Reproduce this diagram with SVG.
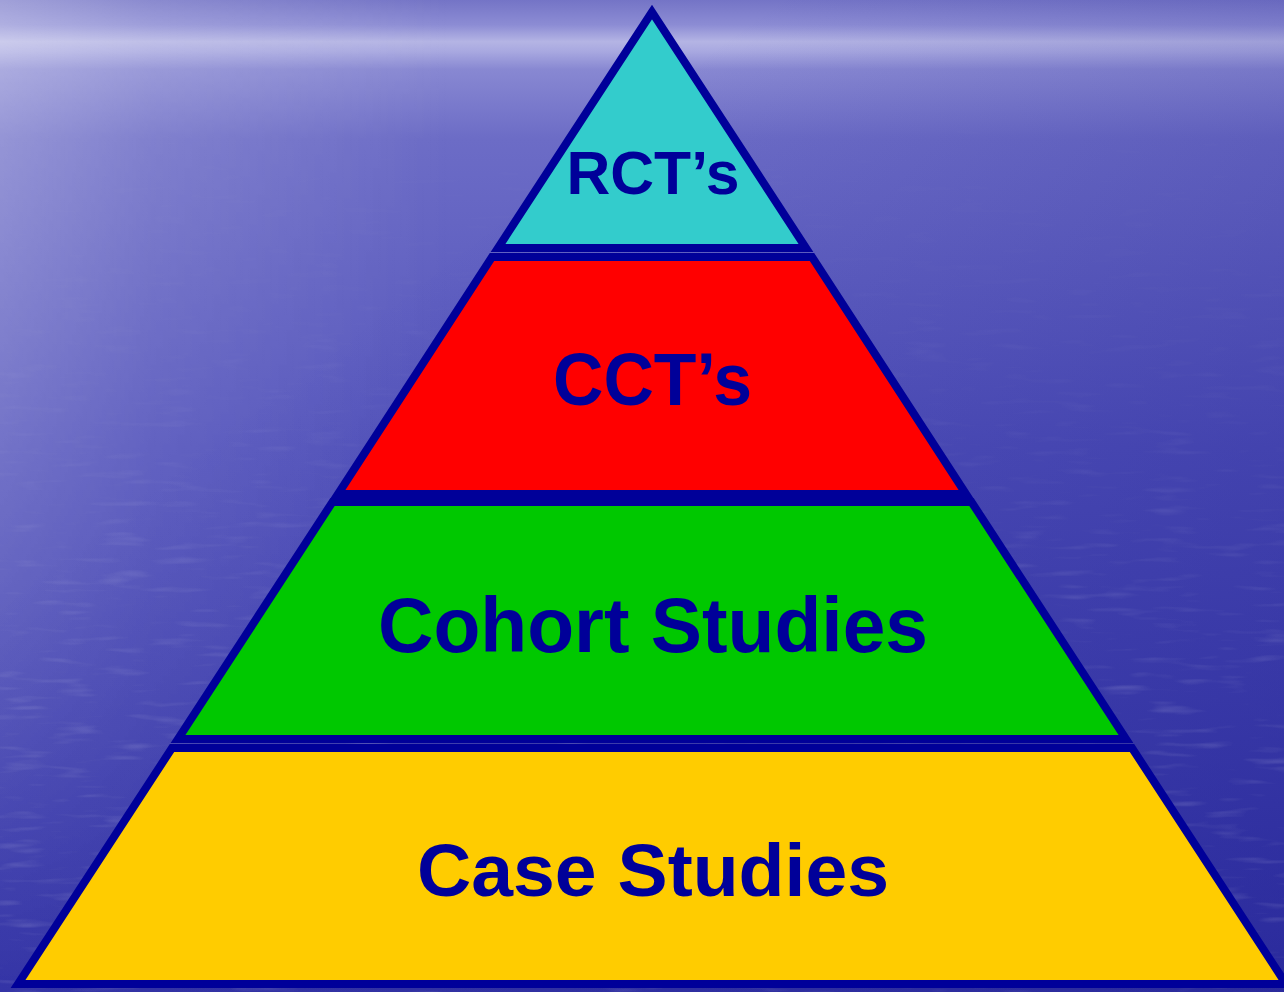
<svg xmlns="http://www.w3.org/2000/svg" width="1284" height="992" viewBox="0 0 1284 992">
  <defs>
    <linearGradient id="sky" x1="0" y1="0" x2="0" y2="1">
      <stop offset="0" stop-color="#7474c6"/>
      <stop offset="0.025" stop-color="#8c8cd4"/>
      <stop offset="0.042" stop-color="#b4b4e4"/>
      <stop offset="0.052" stop-color="#a8a8e0"/>
      <stop offset="0.07" stop-color="#8888d2"/>
      <stop offset="0.14" stop-color="#6c6cc6"/>
      <stop offset="0.45" stop-color="#5252bb"/>
      <stop offset="1" stop-color="#3838aa"/>
    </linearGradient>
    <linearGradient id="glareL" x1="0" y1="0" x2="1" y2="0">
      <stop offset="0" stop-color="#ffffff" stop-opacity="0.32"/>
      <stop offset="0.12" stop-color="#ffffff" stop-opacity="0.16"/>
      <stop offset="0.35" stop-color="#ffffff" stop-opacity="0"/>
    </linearGradient>
    <linearGradient id="fadeDown" x1="0" y1="0" x2="0" y2="1">
      <stop offset="0" stop-color="#ffffff" stop-opacity="1"/>
      <stop offset="0.45" stop-color="#ffffff" stop-opacity="0.6"/>
      <stop offset="1" stop-color="#ffffff" stop-opacity="0"/>
    </linearGradient>
    <linearGradient id="rippleFade" x1="0" y1="0" x2="0" y2="1">
      <stop offset="0" stop-color="#ffffff" stop-opacity="0"/>
      <stop offset="0.35" stop-color="#ffffff" stop-opacity="0.25"/>
      <stop offset="0.7" stop-color="#ffffff" stop-opacity="0.9"/>
      <stop offset="1" stop-color="#ffffff" stop-opacity="1"/>
    </linearGradient>
    <mask id="glareMask">
      <rect x="0" y="0" width="1284" height="992" fill="url(#fadeDown)"/>
    </mask>
    <mask id="rippleMask">
      <rect x="0" y="60" width="1284" height="932" fill="url(#rippleFade)"/>
    </mask>
    <linearGradient id="darkBR" x1="0" y1="0" x2="1" y2="1">
      <stop offset="0.3" stop-color="#1a1a8c" stop-opacity="0"/>
      <stop offset="1" stop-color="#1a1a8c" stop-opacity="0.45"/>
    </linearGradient>
    <filter id="ripple" x="0" y="0" width="100%" height="100%">
      <feTurbulence type="fractalNoise" baseFrequency="0.02 0.14" numOctaves="2" seed="4" result="n"/>
      <feColorMatrix in="n" type="matrix" values="0 0 0 0 1  0 0 0 0 1  0 0 0 0 1  1.3 0 0 0 -0.72"/>
    </filter>
    <style>
      .layer { stroke: #000099; stroke-width: 8; stroke-linejoin: miter; stroke-miterlimit: 10; }
      .shadow { fill: #000080; opacity: 0.75; }
      .label { font-family: "Liberation Sans", Arial, sans-serif; font-weight: bold; fill: #000099; text-anchor: middle; }
    </style>
  </defs>

  <g id="background">
    <rect x="0" y="0" width="1284" height="992" fill="url(#sky)"/>
    <rect x="0" y="0" width="1284" height="992" fill="url(#glareL)" mask="url(#glareMask)"/>
    <rect x="0" y="0" width="1284" height="992" fill="url(#darkBR)"/>
    <g mask="url(#rippleMask)">
      <rect x="0" y="60" width="1284" height="932" filter="url(#ripple)" opacity="0.3"/>
    </g>
  </g>

  <g id="shadows" transform="translate(4,4)">
    <polygon class="shadow" points="652,12 498,248 806,248"/>
    <polygon class="shadow" points="492,257 812,257 966,494 338,494"/>
    <polygon class="shadow" points="332.5,502 971.5,502 1126,739 178,739"/>
    <polygon class="shadow" points="172,748 1132,748 1286,984 18,984"/>
  </g>

  <g id="rcts">
    <polygon class="layer" fill="#33cccc" points="652,12 498,248 806,248"/>
    <text class="label" x="653" y="194" font-size="61" textLength="173" lengthAdjust="spacingAndGlyphs">RCT’s</text>
  </g>

  <g id="ccts">
    <polygon class="layer" fill="#ff0000" points="492,257 812,257 966,494 338,494"/>
    <text class="label" x="652.5" y="405" font-size="75" textLength="199" lengthAdjust="spacingAndGlyphs">CCT’s</text>
  </g>

  <g id="cohort">
    <polygon class="layer" fill="#00c800" points="332.5,502 971.5,502 1126,739 178,739"/>
    <text class="label" x="653" y="652" font-size="77" textLength="550" lengthAdjust="spacingAndGlyphs">Cohort Studies</text>
  </g>

  <g id="case">
    <polygon class="layer" fill="#ffcc00" points="172,748 1132,748 1286,984 18,984"/>
    <text class="label" x="653" y="896" font-size="75" textLength="472" lengthAdjust="spacingAndGlyphs">Case Studies</text>
  </g>

  <g id="connectors"/>
</svg>
